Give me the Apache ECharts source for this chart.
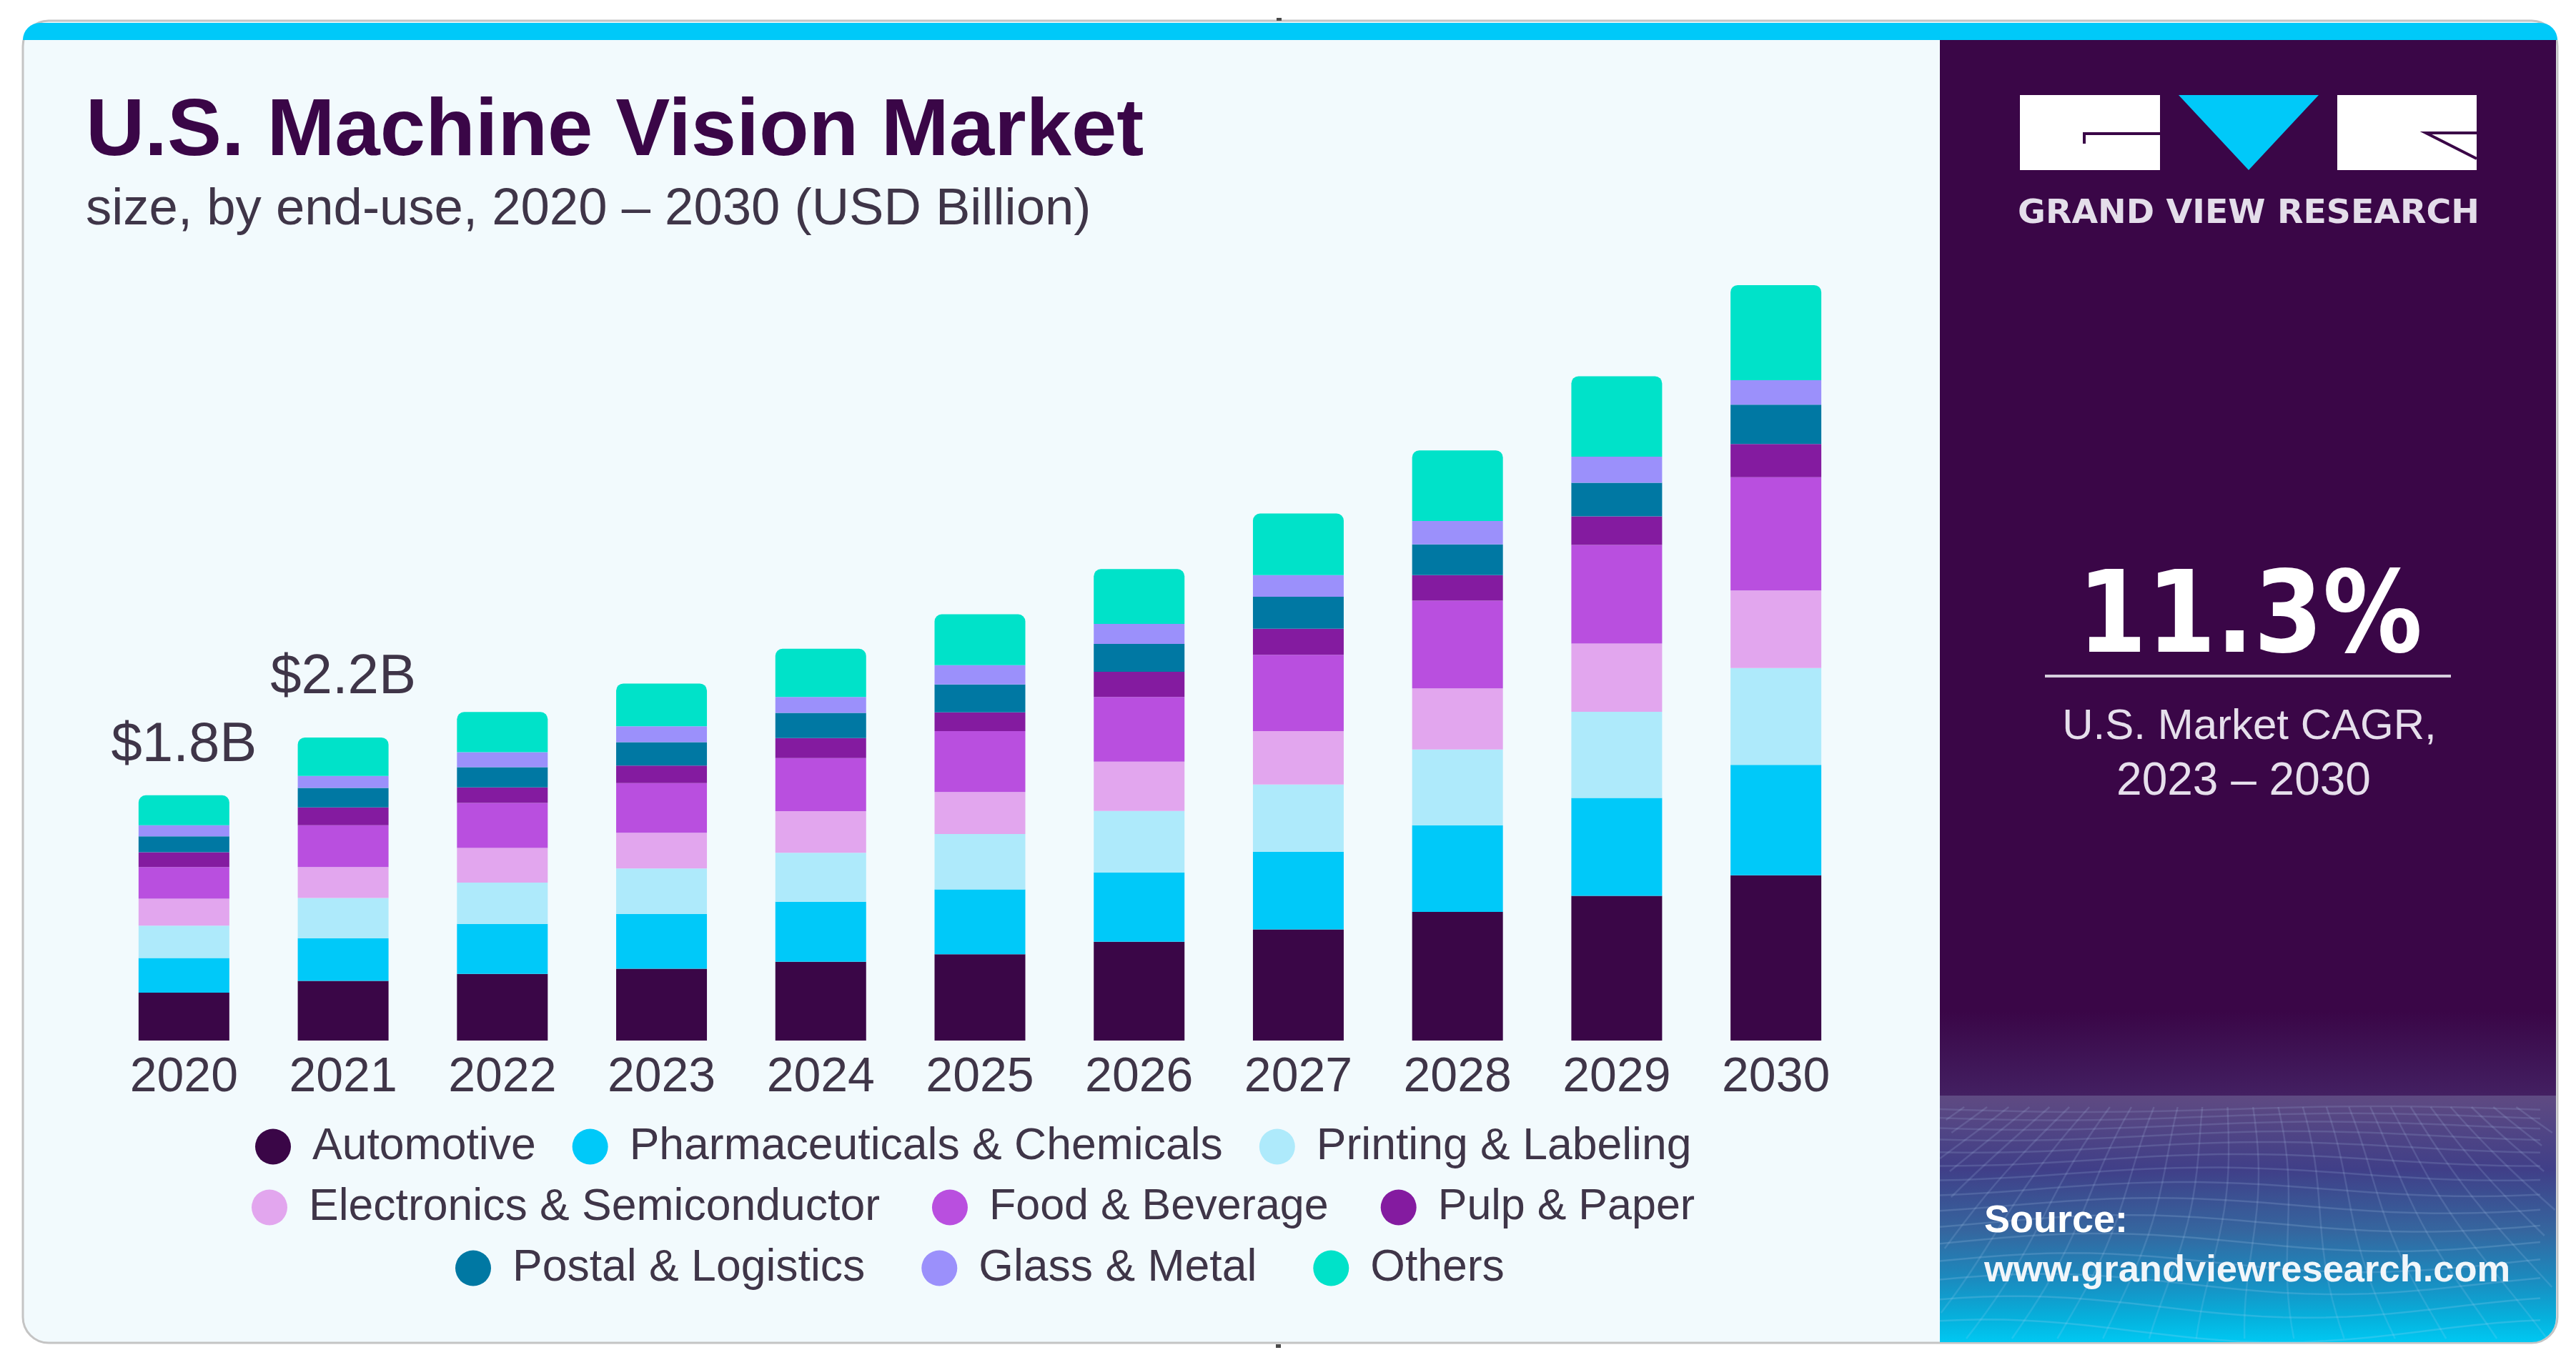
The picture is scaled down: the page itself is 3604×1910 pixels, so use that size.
<!DOCTYPE html>
<html lang="en" style="height: 100%">

<head>
   <meta charset="utf-8">
   <style>
      html,
      body {
         margin: 0;
         padding: 0;
         width: 100%;
         height: 100%;
         overflow: hidden;
         background: #ffffff;
      }
   </style>
</head>

<body>
   <div id="container" style="height: 100%;width: 100%;"></div>

   <script src="https://cdn.jsdelivr.net/npm/echarts@6/dist/echarts.min.js"></script>
   <script type="text/javascript">

      // x axis
      const years = ["2020", "2021", "2022", "2023", "2024", "2025", "2026", "2027", "2028", "2029", "2030"];

      // USD billion
      const automotive = [0.351, 0.438, 0.489, 0.527, 0.578, 0.634, 0.725, 0.816, 0.945, 1.062, 1.213];
      const pharma = [0.255, 0.314, 0.368, 0.403, 0.441, 0.475, 0.508, 0.569, 0.636, 0.719, 0.811];
      const printing = [0.237, 0.295, 0.302, 0.333, 0.359, 0.407, 0.453, 0.494, 0.556, 0.632, 0.711];
      const electronics = [0.199, 0.227, 0.255, 0.262, 0.306, 0.308, 0.361, 0.393, 0.448, 0.502, 0.569];
      const food = [0.232, 0.307, 0.330, 0.365, 0.390, 0.448, 0.475, 0.560, 0.644, 0.724, 0.832];
      const pulp = [0.108, 0.131, 0.115, 0.129, 0.147, 0.137, 0.185, 0.192, 0.188, 0.209, 0.243];
      const postal = [0.117, 0.143, 0.148, 0.171, 0.185, 0.205, 0.205, 0.234, 0.226, 0.247, 0.289];
      const glass = [0.082, 0.087, 0.110, 0.117, 0.116, 0.142, 0.147, 0.159, 0.171, 0.192, 0.180];
      const others = [0.220, 0.283, 0.295, 0.314, 0.354, 0.373, 0.402, 0.452, 0.519, 0.590, 0.698];

      // labels above the first two bars
      const totalLabels = ["$1.8B", "$2.2B"];
      const totalLabelGaps = [30, 44];

      const seriesNames = ["Automotive", "Pharmaceuticals & Chemicals", "Printing & Labeling",
         "Electronics & Semiconductor", "Food & Beverage", "Pulp & Paper",
         "Postal & Logistics", "Glass & Metal", "Others"];
      const seriesValues = [automotive, pharma, printing, electronics, food, pulp, postal, glass, others];
      const seriesColors = ["#3a0647", "#00c9f9", "#aeeafb", "#e2a6ee", "#b94fdf", "#841ba0", "#0078a3", "#9b90fb", "#00e2c9"];

      const textColor = "#3f3548";
      const fontName = "Liberation Sans";
      const darkPanel = "#3a0647";

      function buildSeries() {
         return seriesNames.map((name, s) => ({
            name: name,
            type: "bar",
            stack: "total",
            barWidth: 127,
            color: seriesColors[s],
            itemStyle: s === 8 ? { borderRadius: [10, 10, 0, 0] } : {},
            data: seriesValues[s].map((v, i) => {
               if (s === 8 && totalLabels[i]) {
                  return {
                     value: v,
                     label: {
                        show: true,
                        position: "top",
                        distance: totalLabelGaps[i],
                        formatter: totalLabels[i],
                        fontFamily: fontName,
                        fontSize: 78,
                        color: textColor,
                     },
                  };
               }
               return v;
            }),
         }));
      }

      function legendRow(names, left, top, gap) {
         return {
            data: names,
            left: left,
            top: top,
            padding: 0,
            icon: "circle",
            itemWidth: 50,
            itemHeight: 50,
            itemGap: gap,
            selectedMode: false,
            textStyle: {
               fontFamily: fontName,
               fontSize: 62.5,
               color: textColor,
               padding: [0, 0, 0, 25],
            },
         };
      }

      // the wavy net behind the source text
      function meshLines() {
         const x0 = 2714, x1 = 3576, y0 = 1534, y1 = 1878;
         const lines = [];
         for (let r = 0; r < 15; r++) {
            const t = r / 14;
            const y = y0 + 18 + (y1 - y0 - 30) * t * t * 0.55 + (y1 - y0) * t * 0.4;
            const pts = [];
            for (let x = x0; x <= x1; x += 30) {
               pts.push([x, y + Math.sin((x - x0) / 130 + r * 0.3) * (4 + 12 * t)]);
            }
            lines.push({
               type: "polyline",
               silent: true,
               shape: { points: pts },
               style: { fill: null, stroke: "rgba(185,215,245," + (0.14 + 0.06 * t) + ")", lineWidth: 2.5 },
            });
         }
         for (let c = -14; c <= 14; c++) {
            const pts = [];
            for (let y = y0 + 15; y <= y1; y += 18) {
               const t = (y - y0) / (y1 - y0);
               const x = 3150 + c * (30 + 38 * t) + Math.sin(t * 5 + c * 0.4) * 10;
               if (x >= x0 && x <= x1) {
                  pts.push([x, y]);
               }
            }
            if (pts.length > 1) {
               lines.push({
                  type: "polyline",
                  silent: true,
                  shape: { points: pts },
                  style: { fill: null, stroke: "rgba(185,215,245,0.15)", lineWidth: 2.5 },
               });
            }
         }
         return lines;
      }

      function panelText(text, cx, y, size, opts) {
         return {
            type: "text",
            x: cx,
            y: y,
            silent: true,
            scaleX: opts.scaleX || 1,
            style: {
               text: text,
               fill: opts.fill,
               font: (opts.bold ? "bold " : "") + size + "px '" + (opts.family || fontName) + "'",
               textAlign: opts.align || "center",
               textVerticalAlign: "middle",
            },
         };
      }

      const backdrop = [
         // card
         {
            type: "rect",
            shape: { x: 32, y: 29, width: 3546, height: 1850, r: 36 },
            style: { fill: "#f2fafd", stroke: "#c4c4c4", lineWidth: 3 },
            silent: true,
         },
         // cyan strip
         {
            type: "rect",
            shape: { x: 32, y: 32, width: 3546, height: 24, r: [32, 32, 0, 0] },
            style: { fill: "#00c9f9" },
            silent: true,
         },
         // right panel
         {
            type: "rect",
            shape: { x: 2714, y: 56, width: 862, height: 1478 },
            style: {
               fill: {
                  type: "linear", x: 0, y: 0, x2: 0, y2: 1,
                  colorStops: [
                     { offset: 0, color: darkPanel },
                     { offset: 0.92, color: darkPanel },
                     { offset: 1, color: "#432062" },
                  ],
               },
            },
            silent: true,
         },
         {
            type: "rect",
            shape: { x: 2714, y: 1533, width: 862, height: 345, r: [0, 0, 34, 0] },
            style: {
               fill: {
                  type: "linear", x: 0, y: 0, x2: 0, y2: 1,
                  colorStops: [
                     { offset: 0, color: "#5f4a82" },
                     { offset: 0.3, color: "#403f88" },
                     { offset: 0.55, color: "#35669f" },
                     { offset: 0.75, color: "#1a8cc0" },
                     { offset: 0.9, color: "#06b0dc" },
                     { offset: 1, color: "#00c8f2" },
                  ],
               },
            },
            silent: true,
         },
      ];

      const logo = [
         { type: "rect", silent: true, shape: { x: 2826, y: 133, width: 196, height: 105 }, style: { fill: "#ffffff" } },
         { type: "polygon", silent: true, shape: { points: [[3048, 133], [3244, 133], [3146, 238]] }, style: { fill: "#00c9f9" } },
         { type: "rect", silent: true, shape: { x: 3270, y: 133, width: 195, height: 105 }, style: { fill: "#ffffff" } },
         { type: "polyline", silent: true, shape: { points: [[2916, 201], [2916, 187], [3022, 187]] }, style: { fill: null, stroke: darkPanel, lineWidth: 4 } },
         { type: "polyline", silent: true, shape: { points: [[3465, 186], [3394, 186], [3465, 222]] }, style: { fill: null, stroke: darkPanel, lineWidth: 4 } },
      ];

      const panelLabels = [
         panelText("GRAND VIEW RESEARCH", 3146, 300, 46, { fill: "#e4deea", bold: true, family: "DejaVu Sans", scaleX: 1.03 }),
         panelText("11.3%", 3148, 871, 158, { fill: "#ffffff", bold: true, family: "DejaVu Sans", scaleX: 0.88 }),
         { type: "rect", silent: true, shape: { x: 2861, y: 944, width: 568, height: 4 }, style: { fill: "#d6cede" } },
         panelText("U.S. Market CAGR,", 3147, 1017, 60, { fill: "#e6dfec" }),
         panelText("2023 – 2030", 3139, 1094, 64, { fill: "#e6dfec" }),
         panelText("Source:", 2776, 1709, 54, { fill: "#ffffff", bold: true, align: "left" }),
         panelText("www.grandviewresearch.com", 2776, 1779, 52.5, { fill: "#f1f6fa", bold: true, align: "left" }),
      ];

      // the two small specks on the card edge
      const specks = [
         { type: "rect", silent: true, shape: { x: 1786, y: 25, width: 7, height: 4 }, style: { fill: "#4a4a4a" } },
         { type: "rect", silent: true, shape: { x: 1785, y: 1881, width: 7, height: 5 }, style: { fill: "#4a4a4a" } },
      ];

      // the middle legend row sets two names a little narrower
      const middleRow = [
         seriesNames[3],
         { name: seriesNames[4], textStyle: { fontSize: 61 } },
         { name: seriesNames[5], textStyle: { fontSize: 61 } },
      ];

      var dom = document.getElementById('container');
      var myChart = echarts.init(dom, null, {
         renderer: 'canvas',
         useDirtyRect: false
      });

      var option = {
         animation: false,
         backgroundColor: "#ffffff",
         title: {
            text: "U.S. Machine Vision Market",
            subtext: "size, by end-use, 2020 – 2030 (USD Billion)",
            left: 120,
            top: 129,
            padding: 0,
            itemGap: 14,
            textStyle: {
               fontFamily: fontName,
               fontWeight: "bold",
               fontSize: 114,
               color: darkPanel,
            },
            subtextStyle: {
               fontFamily: fontName,
               fontSize: 72.5,
               color: textColor,
            },
         },
         legend: [
            legendRow(seriesNames.slice(0, 3), 357, 1573, 51),
            legendRow(middleRow, 352, 1658, 73),
            legendRow(seriesNames.slice(6, 9), 637, 1743, 79),
         ],
         grid: {
            left: 146,
            top: 312.4,
            width: 2450,
            height: 1143.6,
         },
         xAxis: [
            {
               type: "category",
               data: years,
               axisLine: { show: false },
               axisTick: { show: false },
               axisLabel: {
                  margin: 18,
                  fontFamily: fontName,
                  fontSize: 68,
                  color: textColor,
               },
            },
         ],
         yAxis: [
            {
               type: "value",
               min: 0,
               max: 6,
               show: false,
            },
         ],
         series: buildSeries(),
         graphic: { elements: backdrop.concat(meshLines(), logo, panelLabels, specks) },
      };

      myChart.setOption(option);

      window.addEventListener('resize', myChart.resize);

   </script>
</body>

</html>
